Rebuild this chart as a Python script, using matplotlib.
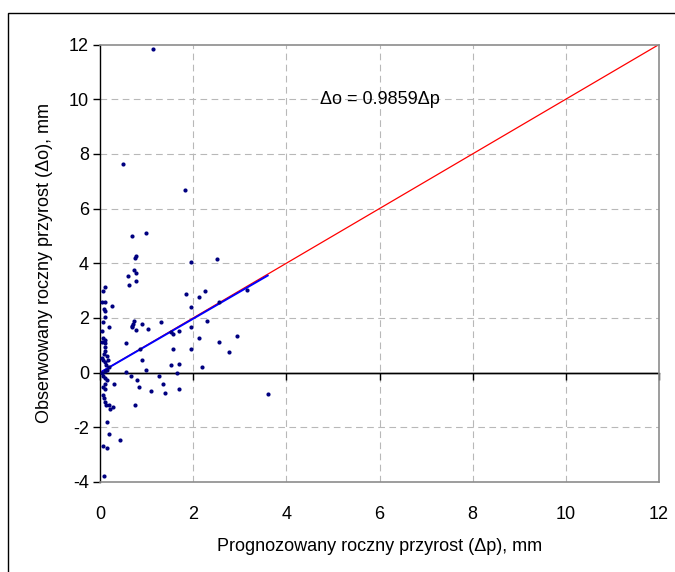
"""
Observed vs predicted annual increment scatter with 1:1 line and fitted trend.
"""

import matplotlib

matplotlib.use("Agg")
import matplotlib.pyplot as plt
import numpy as np
from matplotlib.patches import Rectangle

plt.rcParams["font.family"] = ["Liberation Sans", "DejaVu Sans"]
plt.rcParams["axes.unicode_minus"] = False

# predicted (dp) and observed (do) annual increments, mm
pred = [
    1.13, 0.49, 1.82, 0.99, 0.69, 1.96, 2.52, 0.77, 0.75, 0.60,
    0.72, 0.77, 0.63, 0.77, 0.065, 0.10, 0.05, 0.10, 0.08, 0.10,
    0.10, 0.26, 0.065, 0.19, 0.05, 0.065, 0.10, 0.10, 0.05, 0.10,
    0.10, 0.08, 0.14, 0.05, 0.10, 0.065, 0.18, 0.12, 0.19, 0.16,
    0.10, 0.05, 0.065, 0.10, 0.16, 0.10, 0.065, 0.10, 0.065, 0.08,
    0.10, 0.12, 0.19, 0.21, 0.27, 0.14, 0.19, 0.43, 0.065, 0.16,
    0.08, 0.30, 0.56, 0.56, 0.67, 0.80, 0.83, 0.76, 0.69, 0.71,
    0.68, 0.72, 0.77, 0.90, 1.03, 0.86, 0.90, 0.99, 1.09, 1.27,
    1.30, 1.36, 1.40, 1.53, 1.57, 1.56, 1.53, 1.66, 1.69, 1.69,
    1.69, 1.85, 1.96, 1.96, 1.96, 2.12, 2.12, 2.19, 2.26, 2.29,
    2.55, 2.55, 2.76, 2.95, 3.15, 3.60,
]
obs = [
    11.83, 7.63, 6.67, 5.12, 5.01, 4.05, 4.16, 4.27, 4.21, 3.55,
    3.76, 3.65, 3.20, 3.36, 2.97, 3.13, 2.59, 2.59, 2.32, 2.24,
    2.05, 2.45, 1.84, 1.67, 1.53, 1.27, 1.20, 1.07, 1.11, 0.93,
    0.80, 0.67, 0.60, 0.53, 0.40, 0.47, 0.47, 0.27, 0.20, 0.11,
    0.07, 0.00, -0.13, -0.20, -0.27, -0.40, -0.53, -0.60, -0.80, -0.93,
    -1.07, -1.20, -1.20, -1.33, -1.27, -1.80, -2.24, -2.48, -2.69, -2.77,
    -3.79, -0.43, 1.07, 0.03, -0.13, -0.27, -0.53, -1.17, 1.71, 1.77,
    1.67, 1.87, 1.56, 1.77, 1.61, 0.87, 0.47, 0.08, -0.67, -0.11,
    1.84, -0.43, -0.73, 1.47, 1.40, 0.87, 0.27, -0.03, 0.31, 1.51,
    -0.61, 2.87, 2.40, 1.67, 0.87, 2.75, 1.27, 0.19, 2.97, 1.89,
    2.57, 1.11, 0.76, 1.33, 3.04, -0.77,
]
slope = 0.9859
one_to_one = [0, 12]

FS = 13

fig = plt.figure(figsize=(6.75, 5.72), dpi=100)
ax = fig.add_axes([100 / 675, 1 - 482 / 572, 559 / 675, 437.5 / 572])

# outer chart frame (Excel style)
fig.patches.append(
    Rectangle((8 / 675, -0.05), 1.1, 1 - 13 / 572 + 0.05,
              transform=fig.transFigure, fill=False, edgecolor="black",
              linewidth=1.0)
)

ax.set_xlim(0, 12)
ax.set_ylim(-4, 12)
ax.set_xticks(np.arange(0, 13, 2))
ax.set_yticks(np.arange(-4, 13, 2))

# grid lines (skip axis positions)
for gx in range(2, 12, 2):
    ax.axvline(gx, color="#b8b8b8", linestyle=(0, (6, 4)), linewidth=0.8, zorder=0)
for gy in range(-2, 12, 2):
    if gy != 0:
        ax.axhline(gy, color="#b8b8b8", linestyle=(0, (6, 4)), linewidth=0.8, zorder=0)
ax.axhline(0, color="black", linewidth=1.0, zorder=1)

for side in ("top", "right", "bottom"):
    ax.spines[side].set_color("#8c8c8c")
    ax.spines[side].set_linewidth(1.2)
ax.spines["left"].set_color("black")
ax.spines["left"].set_linewidth(1.0)

ax.tick_params(axis="x", length=0, pad=17, labelsize=FS)
ax.tick_params(axis="y", length=5, width=1, direction="out", pad=3, labelsize=FS)

# x tick marks on the y=0 axis line
sec = ax.secondary_xaxis(0.25)
sec.set_xticks(np.arange(0, 13, 2))
sec.tick_params(axis="x", length=5, width=1, direction="out", labelbottom=False)
sec.spines["bottom"].set_color("black")
sec.spines["bottom"].set_linewidth(1.0)

ax.plot(one_to_one, one_to_one, color="red", linewidth=0.9, zorder=2)
trend_x = np.array([min(pred), max(pred)])
ax.plot(trend_x, slope * trend_x, color="blue", linewidth=1.4, zorder=3)
ax.scatter(pred, obs, s=9, color="#000080", zorder=4, linewidths=0)

ax.text(6, 10, f"\u0394o = {slope}\u0394p", ha="center", va="center", fontsize=FS)
ax.set_xlabel("Prognozowany roczny przyrost (\u0394p), mm", fontsize=FS, labelpad=11)
ax.set_ylabel("Obserwowany roczny przyrost (\u0394o), mm", fontsize=FS, labelpad=11)

fig.savefig("out.png", dpi=100)
